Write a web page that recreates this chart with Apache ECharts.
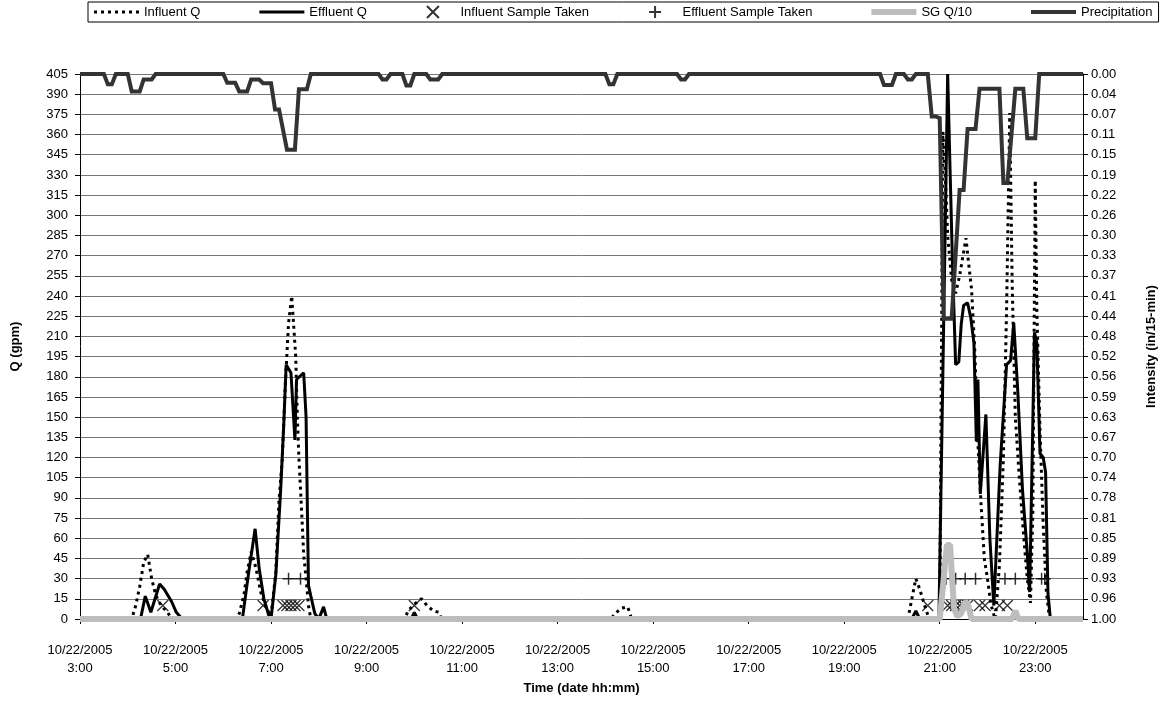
<!DOCTYPE html>
<html>
<head>
<meta charset="utf-8">
<title>Q and precipitation 10/22/2005</title>
<script src="https://cdn.jsdelivr.net/npm/echarts@6/dist/echarts.min.js"></script>
<style>
  html, body { margin: 0; padding: 0; background: #fff; }
  #chart { width: 1166px; height: 705px; }
</style>
</head>
<body>
<div id="chart"></div>
<script>
// all times are "h:mm" on 10/22/2005
const dateLabel = '10/22/2005';
const xTickHours = [3, 5, 7, 9, 11, 13, 15, 17, 19, 21, 23];

// Q in gpm
const influentQ = [
  ['3:00', 0], ['4:05', 0], ['4:10', 10], ['4:15', 24], ['4:20', 42], ['4:25', 48], ['4:30', 30],
  ['4:35', 18], ['4:40', 12], ['4:45', 8], ['4:50', 5], ['4:55', 0],
  ['6:17', 0], ['6:20', 4], ['6:26', 18], ['6:30', 35], ['6:35', 50], ['6:41', 38], ['6:47', 20],
  ['6:53', 10], ['7:00', 2], ['7:06', 35], ['7:10', 88], ['7:14', 118], ['7:18', 175], ['7:22', 220],
  ['7:26', 240], ['7:31', 195], ['7:33', 150], ['7:35', 120], ['7:38', 85], ['7:41', 48], ['7:44', 30],
  ['7:47', 10], ['7:50', 0],
  ['9:48', 0], ['9:52', 6], ['10:00', 11], ['10:09', 15], ['10:16', 10], ['10:24', 6], ['10:31', 5], ['10:34', 0],
  ['14:07', 0], ['14:12', 4], ['14:20', 8], ['14:28', 9], ['14:33', 0],
  ['20:20', 0], ['20:25', 15], ['20:30', 30], ['20:35', 22], ['20:40', 12], ['20:45', 3], ['20:50', 0],
  ['21:00', 0], ['21:04', 362], ['21:07', 330], ['21:10', 285], ['21:15', 252], ['21:20', 242],
  ['21:25', 255], ['21:33', 283], ['21:36', 266], ['21:40', 245], ['21:44', 200], ['21:48', 130],
  ['21:52', 85], ['21:56', 45], ['22:00', 30], ['22:04', 12], ['22:08', 3], ['22:10', 0],
  ['22:15', 40], ['22:20', 120], ['22:24', 230], ['22:28', 376], ['22:31', 250], ['22:35', 150],
  ['22:40', 105], ['22:45', 65], ['22:50', 30], ['22:54', 12], ['22:57', 80], ['23:00', 326],
  ['23:02', 230], ['23:06', 140], ['23:10', 70], ['23:14', 20], ['23:18', 0], ['24:00', 0]
];

const effluentQ = [
  ['3:00', 0], ['4:16', 0], ['4:22', 17], ['4:29', 5], ['4:40', 26], ['4:46', 22], ['4:55', 13],
  ['5:01', 5], ['5:04', 3], ['5:08', 0],
  ['6:24', 0], ['6:32', 35], ['6:40', 67], ['6:45', 38], ['6:51', 15], ['6:57', 3], ['7:00', 0],
  ['7:06', 33], ['7:12', 95], ['7:16', 145], ['7:19', 189], ['7:25', 183], ['7:30', 133], ['7:32', 178],
  ['7:41', 183], ['7:44', 150], ['7:47', 25], ['7:50', 17], ['7:55', 4], ['8:00', 0], ['8:06', 9], ['8:10', 0],
  ['9:56', 0], ['10:00', 5], ['10:04', 0],
  ['20:25', 0], ['20:30', 6], ['20:35', 0],
  ['20:59', 0], ['21:10', 405], ['21:13', 334], ['21:16', 265], ['21:20', 189], ['21:24', 191],
  ['21:27', 219], ['21:30', 233], ['21:35', 235], ['21:39', 224], ['21:43', 205], ['21:46', 132],
  ['21:48', 178], ['21:51', 93], ['21:58', 152], ['22:03', 60], ['22:08', 10],
  ['22:16', 115], ['22:24', 189], ['22:29', 192], ['22:33', 220], ['22:38', 170], ['22:44', 96],
  ['22:50', 49], ['22:53', 20], ['22:56', 115], ['22:59', 213], ['23:02', 205], ['23:06', 123],
  ['23:10', 120], ['23:13', 109], ['23:16', 19], ['23:19', 0], ['24:00', 0]
];

const sgQ10 = [
  ['3:00', 0], ['21:00', 0], ['21:05', 30], ['21:09', 55], ['21:13', 55], ['21:18', 8], ['21:22', 2],
  ['21:27', 4], ['21:31', 12], ['21:35', 12], ['21:40', 0], ['22:31', 0], ['22:35', 6], ['22:39', 0], ['24:00', 0]
];

// sample markers are drawn at a fixed Q level
const influentSampleTimes = ['4:44', '6:50', '7:15', '7:20', '7:25', '7:30', '7:35', '10:00', '20:45',
  '21:10', '21:15', '21:20', '21:25', '21:30', '21:35', '21:50', '21:57', '22:15', '22:25'];
const influentSampleLevel = 10;
const effluentSampleTimes = ['7:22', '7:37', '21:08', '21:20', '21:32', '21:45', '22:22', '22:35',
  '22:51', '23:08', '23:12'];
const effluentSampleLevel = 30;

// intensity in in/15-min
const precipitation = [
  ['3:00', 0], ['3:30', 0], ['3:35', 0.019], ['3:40', 0.019], ['3:45', 0],
  ['4:00', 0], ['4:05', 0.032], ['4:10', 0.032], ['4:15', 0.032], ['4:20', 0.01], ['4:25', 0.01], ['4:30', 0.01], ['4:35', 0],
  ['6:00', 0], ['6:05', 0.016], ['6:10', 0.016], ['6:15', 0.016], ['6:20', 0.032], ['6:25', 0.032], ['6:30', 0.032],
  ['6:35', 0.01], ['6:40', 0.01], ['6:45', 0.01], ['6:50', 0.017], ['6:55', 0.017], ['7:00', 0.017],
  ['7:05', 0.065], ['7:10', 0.065], ['7:20', 0.139], ['7:25', 0.139], ['7:30', 0.139],
  ['7:35', 0.028], ['7:40', 0.028], ['7:45', 0.028], ['7:50', 0],
  ['9:15', 0], ['9:20', 0.01], ['9:25', 0.01], ['9:30', 0],
  ['9:45', 0], ['9:50', 0.021], ['9:55', 0.021], ['10:00', 0],
  ['10:15', 0], ['10:20', 0.01], ['10:25', 0.01], ['10:30', 0.01], ['10:35', 0],
  ['14:00', 0], ['14:05', 0.019], ['14:10', 0.019], ['14:15', 0],
  ['15:30', 0], ['15:35', 0.01], ['15:40', 0.01], ['15:45', 0],
  ['19:45', 0], ['19:50', 0.02], ['19:55', 0.02], ['20:00', 0.02], ['20:05', 0],
  ['20:15', 0], ['20:20', 0.01], ['20:25', 0.01], ['20:30', 0],
  ['20:45', 0], ['20:50', 0.078], ['20:55', 0.078], ['21:00', 0.081],
  ['21:05', 0.449], ['21:10', 0.449], ['21:15', 0.449], ['21:25', 0.213], ['21:30', 0.213],
  ['21:35', 0.101], ['21:40', 0.101], ['21:45', 0.101],
  ['21:50', 0.027], ['21:55', 0.027], ['22:00', 0.027], ['22:05', 0.027], ['22:10', 0.027], ['22:15', 0.027],
  ['22:20', 0.2], ['22:25', 0.2], ['22:35', 0.027], ['22:40', 0.027], ['22:45', 0.027],
  ['22:50', 0.118], ['22:55', 0.118], ['23:00', 0.118], ['23:05', 0], ['24:00', 0]
];

function hrs(t) {
  const p = t.split(':');
  return +p[0] + +p[1] / 60;
}
function toXY(arr) {
  return arr.map(d => [hrs(d[0]), d[1]]);
}

const font = '"Liberation Sans", Arial, sans-serif';
const chart = echarts.init(document.getElementById('chart'), null, { renderer: 'canvas' });

// legend swatches: plain bars / dots, no point symbol on the line entries
const dotIcon = 'path://M0 0h3v3h-3zM7 0h3v3h-3zM14 0h3v3h-3zM21 0h3v3h-3zM28 0h3v3h-3zM35 0h3v3h-3zM42 0h3v3h-3z';
const barIcon = h => 'path://M0 0h45v' + h + 'h-45z';

const option = {
  animation: false,
  backgroundColor: '#fff',
  textStyle: { fontFamily: font, color: '#000' },
  grid: { left: 80, right: 79, top: 74, bottom: 86 },
  legend: {
    left: 88, top: 2,
    itemWidth: 45, itemHeight: 12, itemGap: 59,
    padding: [3, 6, 3, 6],
    borderColor: '#000', borderWidth: 1,
    textStyle: { fontSize: 13, color: '#000', fontFamily: font },
    data: [
      { name: 'Influent Q', icon: dotIcon },
      { name: 'Effluent Q', icon: barIcon(3) },
      'Influent Sample Taken',
      'Effluent Sample Taken',
      { name: 'SG Q/10', icon: barIcon(6) },
      { name: 'Precipitation', icon: barIcon(4) }
    ]
  },
  xAxis: {
    type: 'value', min: 3, max: 24,
    name: 'Time (date hh:mm)', nameLocation: 'middle', nameGap: 63,
    nameTextStyle: { fontWeight: 'bold', fontSize: 13, fontFamily: font, color: '#000' },
    axisLine: { lineStyle: { color: '#000', width: 1 } },
    axisTick: { customValues: xTickHours, length: 5, inside: false, lineStyle: { color: '#000' } },
    axisLabel: {
      customValues: xTickHours, margin: 22, fontSize: 13, lineHeight: 18, color: '#000', fontFamily: font,
      formatter: v => dateLabel + '\n' + v + ':00'
    },
    splitLine: { show: false }
  },
  yAxis: [{
    type: 'value', min: 0, max: 405, interval: 15,
    name: 'Q (gpm)', nameLocation: 'middle', nameGap: 58, nameRotate: 90,
    nameTextStyle: { fontWeight: 'bold', fontSize: 13, fontFamily: font, color: '#000' },
    axisLine: { show: true, lineStyle: { color: '#000' } },
    axisTick: { show: true, length: 5, lineStyle: { color: '#000' } },
    axisLabel: { fontSize: 13, color: '#000', margin: 12, fontFamily: font },
    splitLine: { lineStyle: { color: '#777', width: 1 } }
  }, {
    type: 'value', min: 0, max: 1, interval: 1 / 27, inverse: true,
    name: 'Intensity (in/15-min)', nameLocation: 'middle', nameGap: 62, nameRotate: 90,
    nameTextStyle: { fontWeight: 'bold', fontSize: 13, fontFamily: font, color: '#000' },
    axisLine: { show: true, lineStyle: { color: '#000' } },
    axisTick: { show: true, length: 5, lineStyle: { color: '#000' } },
    axisLabel: { fontSize: 13, color: '#000', margin: 8, fontFamily: font, formatter: v => Math.abs(v).toFixed(2) },
    splitLine: { show: false }
  }],
  series: [{
    name: 'Influent Q', type: 'line', data: toXY(influentQ),
    symbol: 'none', clip: false, silent: true,
    lineStyle: { color: '#000', width: 3, type: [3, 4], cap: 'butt' },
    itemStyle: { color: '#000' }
  }, {
    name: 'Effluent Q', type: 'line', data: toXY(effluentQ),
    symbol: 'none', clip: false, silent: true,
    lineStyle: { color: '#000', width: 3 },
    itemStyle: { color: '#000' }
  }, {
    name: 'Influent Sample Taken', type: 'scatter',
    data: influentSampleTimes.map(t => [hrs(t), influentSampleLevel]),
    symbol: 'path://M0 0L12 12M12 0L0 12', symbolSize: 11, silent: true,
    itemStyle: { color: 'rgba(0,0,0,0)', borderColor: '#000', borderWidth: 1.3 }
  }, {
    name: 'Effluent Sample Taken', type: 'scatter',
    data: effluentSampleTimes.map(t => [hrs(t), effluentSampleLevel]),
    symbol: 'path://M6 0L6 12M0 6L12 6', symbolSize: 12, silent: true,
    itemStyle: { color: 'rgba(0,0,0,0)', borderColor: '#000', borderWidth: 1.5 }
  }, {
    name: 'SG Q/10', type: 'line', data: toXY(sgQ10),
    symbol: 'none', clip: false, silent: true,
    lineStyle: { color: '#bdbdbd', width: 6 },
    itemStyle: { color: '#bdbdbd' }
  }, {
    name: 'Precipitation', type: 'line', yAxisIndex: 1, data: toXY(precipitation),
    symbol: 'none', clip: false, silent: true,
    lineStyle: { color: '#333', width: 4, join: 'miter' },
    itemStyle: { color: '#333' }
  }]
};

chart.setOption(option);
</script>
</body>
</html>
